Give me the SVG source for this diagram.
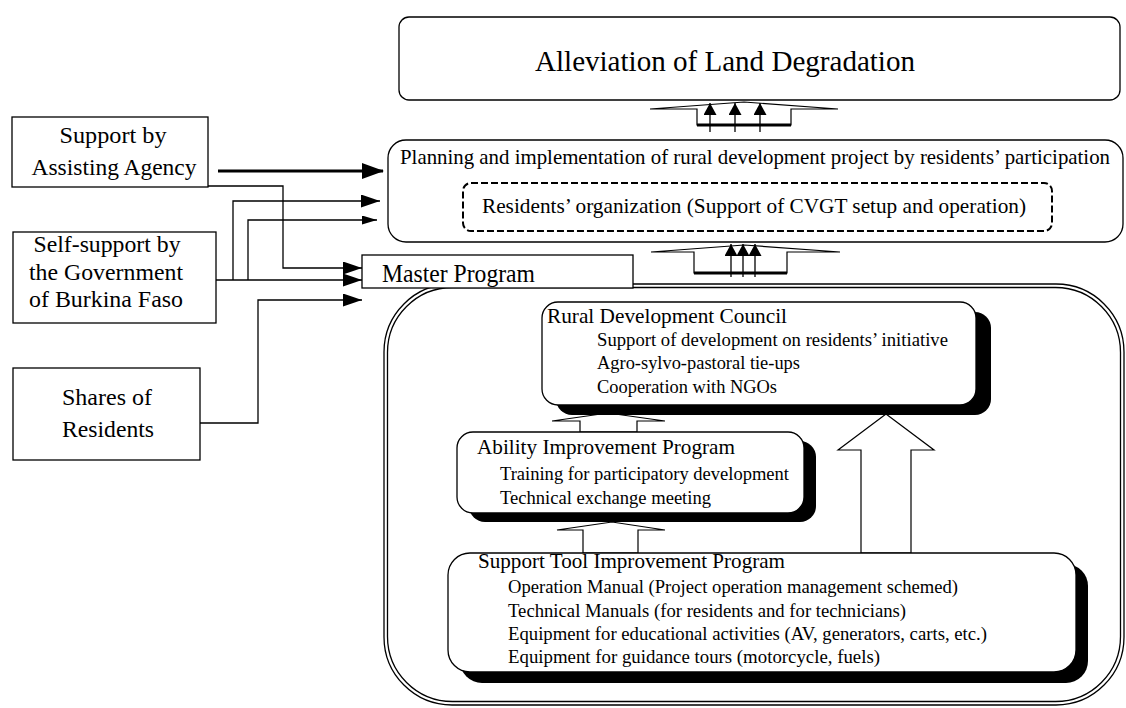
<svg xmlns="http://www.w3.org/2000/svg" width="1126" height="708" viewBox="0 0 1126 708">
<style>
text{font-family:"Liberation Serif","Times New Roman",serif;fill:#000}
.box{fill:#fff;stroke:#000;stroke-width:1.3}
.shadow{fill:#000;stroke:none}
.ln{fill:none;stroke:#000;stroke-width:1.3}
.blk{fill:#fff;stroke:#000;stroke-width:1.2}
.t29{font-size:30px}
.t24{font-size:25px}
.t23{font-size:24px}
.t21{font-size:22px}
.t20{font-size:21px}
.t18{font-size:19.5px}
.mid{text-anchor:middle}
</style>
<defs>
<marker id="ahb" viewBox="0 0 22 16" refX="21" refY="8" markerWidth="22" markerHeight="16" markerUnits="userSpaceOnUse" orient="auto"><path d="M0,0L22,8L0,16z"/></marker>
<marker id="ah" viewBox="0 0 19 13" refX="19" refY="6.5" markerWidth="19" markerHeight="13" markerUnits="userSpaceOnUse" orient="auto"><path d="M0,0L19,6.5L0,13z"/></marker>
<marker id="ahs" viewBox="0 0 15 9" refX="15" refY="4.5" markerWidth="15" markerHeight="9" markerUnits="userSpaceOnUse" orient="auto"><path d="M0,0L15,4.5L0,9z"/></marker>
<marker id="up" viewBox="0 0 12 13" refX="12" refY="6.5" markerWidth="12" markerHeight="13" markerUnits="userSpaceOnUse" orient="auto"><path d="M0,0L12,6.5L0,13z"/></marker>
</defs>
<rect x="0" y="0" width="1126" height="708" fill="#fff"/>

<g id="frame">
<rect x="384" y="284" width="740" height="421" rx="68" class="ln" stroke-width="1.4"/>
<rect x="387.5" y="287.5" width="733" height="414" rx="65" class="ln" stroke-width="1.2"/>
</g>

<g id="connectors">
<polygon class="blk" points="650,109 744,102 838,109 791,109 791,125 697,125 697,109"/>
<line x1="697" y1="125" x2="791" y2="125" stroke="#000" stroke-width="3"/>
<path class="ln" d="M710,132V103" marker-end="url(#up)"/>
<path class="ln" d="M735,132V103" marker-end="url(#up)"/>
<path class="ln" d="M760,132V103" marker-end="url(#up)"/>
<polygon class="blk" points="651,252 744,245 840,252 787,252 787,273 694,273 694,252"/>
<line x1="694" y1="273" x2="787" y2="273" stroke="#000" stroke-width="3"/>
<path class="ln" d="M731,277V244" marker-end="url(#up)"/>
<path class="ln" d="M743,277V244" marker-end="url(#up)"/>
<path class="ln" d="M755,277V244" marker-end="url(#up)"/>
<polygon class="blk" points="552,421 608,413 665,421 637,421 637,432 580,432 580,421"/>
<polygon class="blk" points="557,530 612,522 665,530 638,530 638,553 583,553 583,530"/>
<polygon class="blk" points="838,450 886,414 934,450 911,450 911,553 861,553 861,450"/>
<path d="M218,171H383" fill="none" stroke="#000" stroke-width="3" marker-end="url(#ahb)"/>
<path class="ln" d="M208,186H283V268H362" marker-end="url(#ah)"/>
<path class="ln" d="M203,280H362" stroke-width="1.6" marker-end="url(#ah)"/>
<path class="ln" d="M233,280V201H380" stroke-width="1.6" marker-end="url(#ah)"/>
<path class="ln" d="M248,280V220H377" marker-end="url(#ahs)"/>
<path class="ln" d="M200,423H258V300H362" marker-end="url(#ah)"/>
</g>

<g id="goal">
<rect x="399" y="17" width="721" height="83" rx="10" class="box" stroke-width="2"/>
<text x="535" y="71" class="t29" textLength="380" lengthAdjust="spacingAndGlyphs">Alleviation of Land Degradation</text>
</g>

<g id="planning">
<rect x="388" y="140" width="735" height="102" rx="18" class="box"/>
<text x="400" y="164" class="t20" textLength="710" lengthAdjust="spacingAndGlyphs">Planning and implementation of rural development project by residents’ participation</text>
</g>

<g id="residents-org">
<rect x="463" y="183" width="589" height="48" rx="8" fill="#fff" stroke="#000" stroke-width="2" stroke-dasharray="7 3"/>
<text x="482" y="213" class="t21" textLength="544" lengthAdjust="spacingAndGlyphs">Residents’ organization (Support of CVGT setup and operation)</text>
</g>

<g id="assisting-agency">
<rect x="12" y="117" width="196" height="70" class="box" stroke-width="3"/>
<text x="113" y="143" class="t23 mid" textLength="107" lengthAdjust="spacingAndGlyphs">Support by</text>
<text x="114" y="175" class="t23 mid" textLength="165" lengthAdjust="spacingAndGlyphs">Assisting Agency</text>
</g>

<g id="self-support">
<rect x="13" y="232" width="203" height="91" class="box"/>
<text x="107" y="252" class="t23 mid" textLength="147" lengthAdjust="spacingAndGlyphs">Self-support by</text>
<text x="106" y="280" class="t23 mid" textLength="154" lengthAdjust="spacingAndGlyphs">the Government</text>
<text x="106" y="307" class="t23 mid" textLength="154" lengthAdjust="spacingAndGlyphs">of Burkina Faso</text>
</g>

<g id="shares">
<rect x="13" y="368" width="187" height="92" class="box"/>
<text x="107" y="405" class="t23 mid" textLength="90" lengthAdjust="spacingAndGlyphs">Shares of</text>
<text x="108" y="437" class="t23 mid" textLength="92" lengthAdjust="spacingAndGlyphs">Residents</text>
</g>

<g id="master-program">
<rect x="362" y="255" width="271" height="33" class="box"/>
<text x="382" y="282" class="t24" textLength="153" lengthAdjust="spacingAndGlyphs">Master Program</text>
</g>

<g id="rural-council">
<rect x="556" y="312" width="435" height="103" rx="16" class="shadow"/>
<rect x="542" y="302" width="434" height="103" rx="16" class="box"/>
<text x="547" y="323" class="t21" textLength="240" lengthAdjust="spacingAndGlyphs">Rural Development Council</text>
<text x="597" y="346" class="t18" textLength="351" lengthAdjust="spacingAndGlyphs">Support of development on residents’ initiative</text>
<text x="597" y="369" class="t18" textLength="203" lengthAdjust="spacingAndGlyphs">Agro-sylvo-pastoral tie-ups</text>
<text x="597" y="393" class="t18" textLength="180" lengthAdjust="spacingAndGlyphs">Cooperation with NGOs</text>
</g>

<g id="ability">
<rect x="469" y="441" width="347" height="81" rx="16" class="shadow"/>
<rect x="457" y="432" width="347" height="81" rx="16" class="box"/>
<text x="477" y="454" class="t21" textLength="258" lengthAdjust="spacingAndGlyphs">Ability Improvement Program</text>
<text x="500" y="480" class="t18" textLength="289" lengthAdjust="spacingAndGlyphs">Training for participatory development</text>
<text x="500" y="504" class="t18" textLength="211" lengthAdjust="spacingAndGlyphs">Technical exchange meeting</text>
</g>

<g id="support-tool">
<rect x="460" y="564" width="628" height="119" rx="22" class="shadow"/>
<rect x="448" y="553" width="628" height="119" rx="22" class="box"/>
<text x="478" y="568" class="t21" textLength="307" lengthAdjust="spacingAndGlyphs">Support Tool Improvement Program</text>
<text x="508" y="593" class="t18" textLength="450" lengthAdjust="spacingAndGlyphs">Operation Manual (Project operation management schemed)</text>
<text x="508" y="617" class="t18" textLength="398" lengthAdjust="spacingAndGlyphs">Technical Manuals (for residents and for technicians)</text>
<text x="508" y="640" class="t18" textLength="479" lengthAdjust="spacingAndGlyphs">Equipment for educational activities (AV, generators, carts, etc.)</text>
<text x="508" y="663" class="t18" textLength="372" lengthAdjust="spacingAndGlyphs">Equipment for guidance tours (motorcycle, fuels)</text>
</g>
</svg>
